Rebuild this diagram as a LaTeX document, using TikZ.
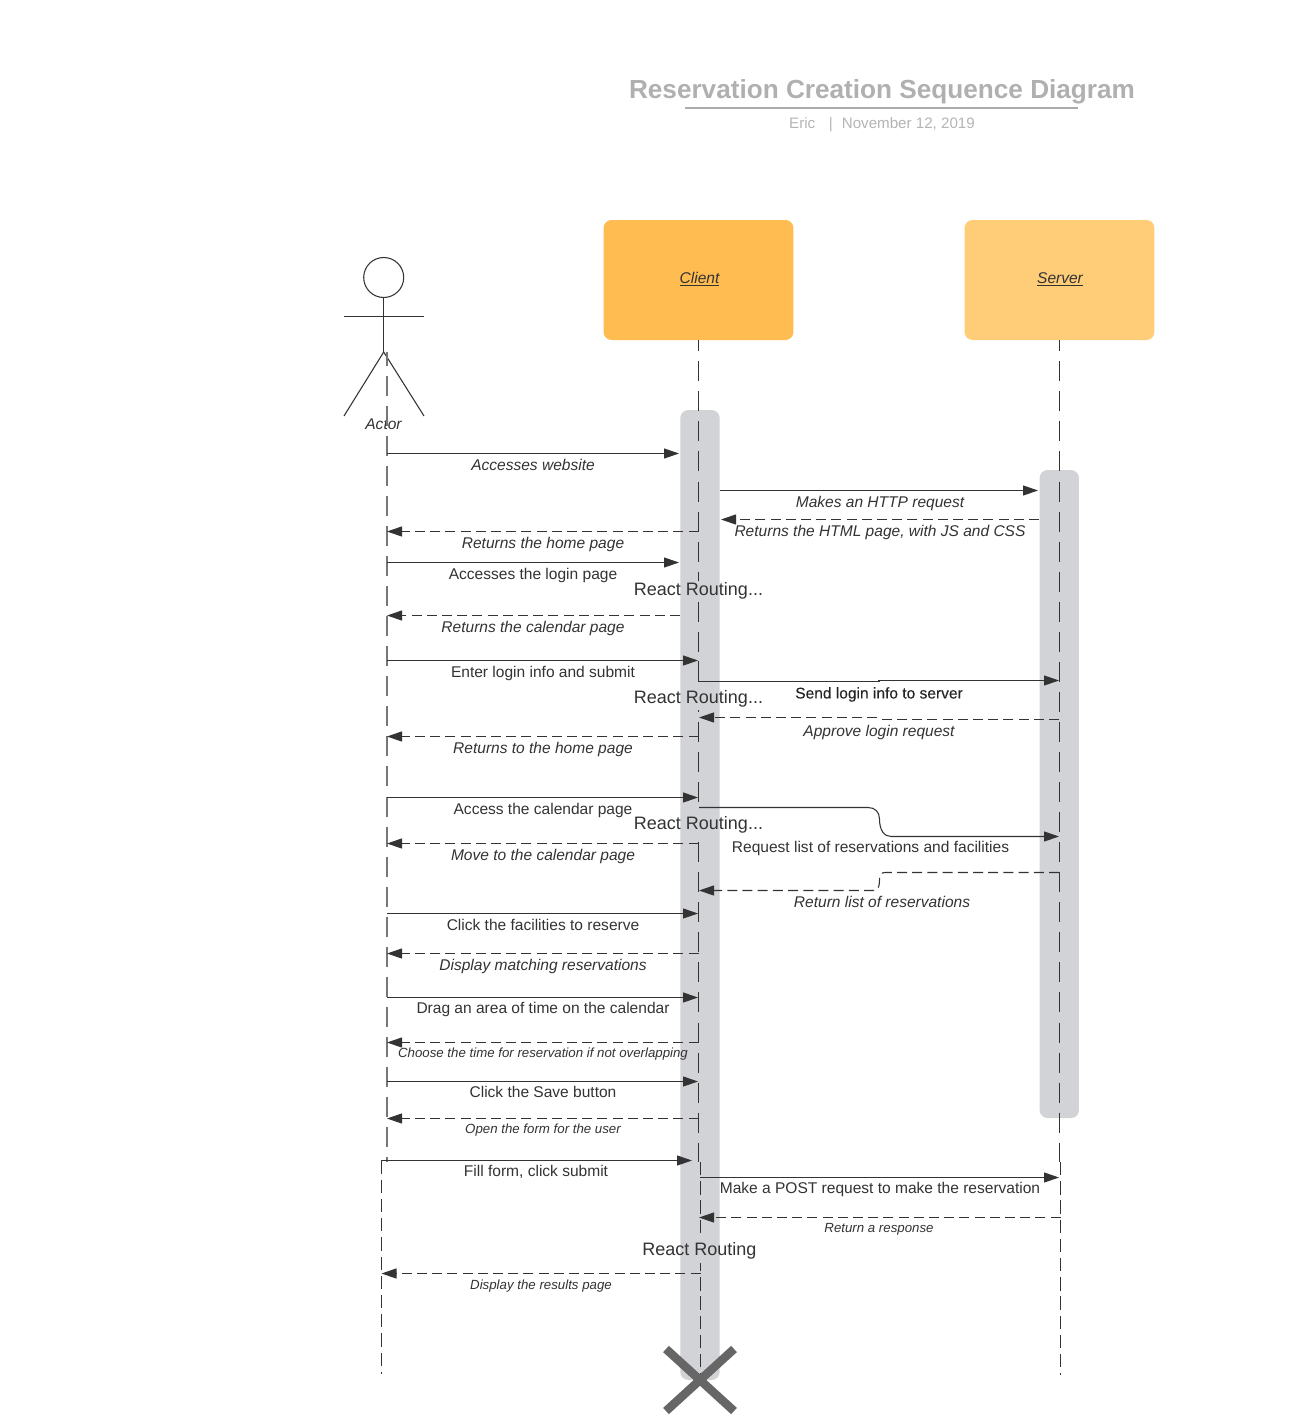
\documentclass[tikz,border=0pt]{standalone}
\usepackage{fontspec}
\setmainfont{Liberation Sans}
\usetikzlibrary{arrows.meta}
\definecolor{ink}{HTML}{333333}
\definecolor{actorline}{HTML}{777777}
\definecolor{titlegray}{HTML}{B0B0B0}
\definecolor{subgray}{HTML}{B5B5B5}
\definecolor{ruleg}{HTML}{ABABAB}
\definecolor{clientfill}{HTML}{FFBC51}
\definecolor{serverfill}{HTML}{FFCC77}
\definecolor{barfill}{HTML}{D1D3D6}
\definecolor{crossg}{HTML}{666666}
\tikzset{
  x=0.75pt,y=-0.75pt,
  line/.style={draw=ink,line width=0.8pt},
  solidmsg/.style={line,-{Triangle[length=11.25pt,width=7.5pt,fill=ink]}},
  dashmsg/.style={solidmsg,dash pattern=on 7.5pt off 3.9pt},
  life/.style={line,dash pattern=on 15pt off 7.54pt,dash phase=6.75pt},
  lifeactor/.style={line,draw=actorline,line width=1pt,dash pattern=on 15pt off 7.54pt,dash phase=4.7pt},
  lifeb/.style={line,dash pattern=on 10pt off 4.4pt},
  lbl/.style={inner sep=0pt,yshift=-1.5pt,text=ink,font=\fontsize{11.65}{13}\selectfont,text height=0.72em,text depth=0.2em},
  ilbl/.style={lbl,font=\fontsize{11.65}{13}\selectfont\itshape},
  slbl/.style={lbl,font=\fontsize{9.95}{12}\selectfont\itshape},
  routing/.style={lbl,yshift=-0.75pt,font=\fontsize{13.5}{16}\selectfont},
  actorbox/.style={draw=none,rounded corners=6pt,minimum width=142.3pt,minimum height=90pt,inner sep=0pt},
  bar/.style={draw=none,fill=barfill,rounded corners=6pt,minimum width=29.5pt,inner sep=0pt},
  cover/.style={draw=none,fill=barfill},
}
% #1 name, #2 style, #3 x from, #4 x to, #5 y, #6 label style, #7 label x, #8 label y, #9 text
\newcommand{\seqmsg}[9]{%
  \coordinate (#1a) at (#3,#5);
  \coordinate (#1b) at (#4,#5);
  \draw[#2] (#1a) -- (#1b);
  \node[#6] (#1l) at (#7,#8) {#9};
}
\begin{document}
\begin{tikzpicture}
\useasboundingbox[fill=white] (0,0) rectangle (1305,1427);

% title
\node[inner sep=0pt,text=titlegray,font=\fontsize{19.62}{24}\selectfont\bfseries] (title) at (882,92) {Reservation Creation Sequence Diagram};
\coordinate (ruleL) at (685,108);
\coordinate (ruleR) at (1078,108);
\draw[ruleg,line width=1.5pt] (ruleL) -- (ruleR);
\node[inner sep=0pt,text=subgray,font=\fontsize{11.35}{13}\selectfont] (sub) at (882,125) {Eric\hspace{0.9em}|\hspace{0.6em}November 12, 2019};

% head boxes
\node[actorbox,fill=clientfill] (client) at (698.5,280) {};
\node[actorbox,fill=serverfill] (server) at (1059.5,280) {};
\node[ilbl] (clientl) at (699.5,278) {\underline{Client}};
\node[ilbl] (serverl) at (1060,278) {\underline{Server}};

% activation bars
\node[bar,minimum height=727.5pt] (clientbar) at (700,895) {};
\node[bar,minimum height=486pt] (serverbar) at (1059.3,794) {};

% stick figure
\node[draw=ink,line width=0.8pt,circle,minimum size=30pt,inner sep=0pt] (head) at (383.7,277.5) {};
\coordinate (hip) at (383.7,352);
\coordinate (armL) at (344,316.5);
\coordinate (armR) at (424,316.5);
\coordinate (footL) at (344,416);
\coordinate (footR) at (424,416);
\draw[line] (head.south) -- (hip);
\draw[line] (armL) -- (armR);
\draw[line] (footL) -- (hip) -- (footR);
\node[ilbl] (actor) at (383.5,424) {Actor};

% lifelines
\coordinate (actorTop) at (387,352);
\coordinate (actorEnd) at (387,1162);
\coordinate (clientEnd) at (698.5,1162);
\coordinate (clientB) at (700.7,1162);
\coordinate (clientBEnd) at (700.7,1375);
\coordinate (serverEnd) at (1059.5,1162);
\coordinate (serverB) at (1060.7,1162);
\coordinate (serverBEnd) at (1060.7,1375);
\coordinate (actorB) at (381.3,1160.5);
\coordinate (actorBEnd) at (381.3,1374);
\draw[lifeactor] (actorTop) -- (actorEnd);
\draw[life] (client.south) -- (clientEnd);
\draw[life] (server.south) -- (serverEnd);
\draw[lifeb] (actorB) -- (actorBEnd);
\draw[lifeb] (clientB) -- (clientBEnd);
\draw[lifeb] (serverB) -- (serverBEnd);

% the client lifeline breaks behind each routing label
\fill[cover] (694,581) rectangle (703,601);
\fill[cover] (694,684) rectangle (703,710);
\fill[cover] (694,810) rectangle (703,834);
\fill[cover] (694,1238) rectangle (705,1263);

% messages
\seqmsg{m1}{solidmsg}{387}{679}{453.5}{ilbl}{533}{465}{Accesses website}
\seqmsg{m2}{solidmsg}{720}{1038}{490.5}{ilbl}{880}{502}{Makes an HTTP request}
\seqmsg{m3}{dashmsg}{1039}{721}{519.5}{ilbl}{880}{531}{Returns the HTML page, with JS and CSS}
\seqmsg{m4}{dashmsg}{698.5}{387}{531.5}{ilbl}{543}{543}{Returns the home page}
\seqmsg{m5}{solidmsg}{387}{679}{562.5}{lbl}{533}{574}{Accesses the login page}
\node[routing] (r1) at (698.5,589) {React Routing...};
\seqmsg{m6}{dashmsg}{680}{387}{615.5}{ilbl}{533}{627}{Returns the calendar page}
\seqmsg{m7}{solidmsg}{387}{698}{660.5}{lbl}{543}{672}{Enter login info and submit}

\coordinate (m8a) at (698.5,661);
\coordinate (m8b) at (698.5,681.5);
\coordinate (m8c) at (879,681.5);
\coordinate (m8d) at (879,680.5);
\coordinate (m8e) at (1059,680.5);
\draw[solidmsg] (m8a) -- (m8b) -- (m8c) -- (m8d) -- (m8e);
\node[lbl,text=black!85,font=\fontsize{11.65}{13}\selectfont\addfontfeature{FakeBold=0.15}] (m8l) at (879,693) {Send login info to server};
\node[routing] (r2) at (698.5,697) {React Routing...};

\coordinate (m9a) at (1059,719.5);
\coordinate (m9b) at (881,719.5);
\coordinate (m9c) at (878,717.5);
\coordinate (m9d) at (699,717.5);
\draw[dashmsg] (m9a) -- (m9b) -- (m9c) -- (m9d);
\node[ilbl] (m9l) at (879,731) {Approve login request};

\seqmsg{m10}{dashmsg}{698.5}{387}{736.5}{ilbl}{543}{748}{Returns to the home page}
\seqmsg{m11}{solidmsg}{387}{698}{797.5}{lbl}{543}{809}{Access the calendar page}

\coordinate (m12a) at (699,807.5);
\coordinate (m12b) at (868,807.5);
\coordinate (m12c) at (879.5,819);
\coordinate (m12d) at (891,836.5);
\coordinate (m12e) at (1059,836.5);
\draw[solidmsg] (m12a) -- (m12b) .. controls (875,807.5) and (879.5,812) .. (m12c) .. controls (879.5,830) and (884,836.5) .. (m12d) -- (m12e);
\node[lbl] (m12l) at (870.5,847) {Request list of reservations and facilities};
\node[routing] (r3) at (698.5,823) {React Routing...};

\seqmsg{m13}{dashmsg}{698.5}{387}{843.5}{ilbl}{543}{855}{Move to the calendar page}

\coordinate (m14a) at (1059,872.5);
\coordinate (m14b) at (885,872.5);
\coordinate (m14c) at (879.5,880);
\coordinate (m14d) at (873,890.5);
\coordinate (m14e) at (699,890.5);
\draw[dashmsg] (m14a) -- (m14b) .. controls (881,872.5) and (879.5,875) .. (m14c) .. controls (879.5,887) and (878,890.5) .. (m14d) -- (m14e);
\node[ilbl] (m14l) at (882,902) {Return list of reservations};

\seqmsg{m15}{solidmsg}{387}{698}{913.5}{lbl}{543}{925}{Click the facilities to reserve}
\seqmsg{m16}{dashmsg}{698.5}{387}{953.5}{ilbl}{543}{965}{Display matching reservations}
\seqmsg{m17}{solidmsg}{387}{698}{997.5}{lbl}{543}{1008}{Drag an area of time on the calendar}
\seqmsg{m18}{dashmsg}{698.5}{387}{1042.5}{slbl}{543}{1052}{Choose the time for reservation if not overlapping}
\seqmsg{m19}{solidmsg}{387}{698}{1081.5}{lbl}{543}{1092}{Click the Save button}
\seqmsg{m20}{dashmsg}{698.5}{387}{1118.5}{slbl}{543}{1128}{Open the form for the user}
\seqmsg{m21}{solidmsg}{381}{692}{1160.5}{lbl}{536}{1171}{Fill form, click submit}
\seqmsg{m22}{solidmsg}{700}{1059}{1177.5}{lbl}{880}{1188}{Make a POST request to make the reservation}
\seqmsg{m23}{dashmsg}{1060.5}{699}{1217.5}{slbl}{879}{1227}{Return a response}
\node[routing] (r4) at (699.5,1249) {React Routing};
\seqmsg{m24}{dashmsg}{700.5}{381.5}{1273.5}{slbl}{541}{1284}{Display the results page}

% destroy mark
\coordinate (x1) at (666,1349);
\coordinate (x2) at (734,1411);
\coordinate (x3) at (734,1349);
\coordinate (x4) at (666,1411);
\draw[crossg,line width=6.4pt] (x1) -- (x2);
\draw[crossg,line width=6.4pt] (x3) -- (x4);
\end{tikzpicture}
\end{document}
